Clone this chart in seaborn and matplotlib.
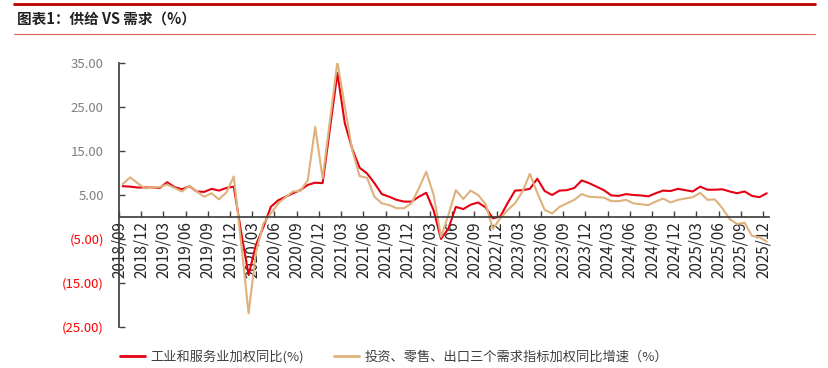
import numpy as np
import pandas as pd
import seaborn as sns
import matplotlib.pyplot as plt
from matplotlib.lines import Line2D

# monthly data, 2018/09 - 2025/12
months = pd.period_range('2018-09', '2025-12', freq='M').strftime('%Y/%m').tolist()

supply = [7.0, 6.9, 6.7, 6.7, 6.7, 6.6, 7.9, 6.8, 6.3, 7.0, 5.8, 5.7, 6.4, 6.0, 6.6, 6.9,
          -3.5, -13.2, -6.3, -2.3, 2.3, 3.8, 4.6, 5.4, 6.1, 7.3, 7.8, 7.7, 20.2, 32.7,
          21.3, 15.5, 11.2, 9.9, 7.7, 5.2, 4.6, 3.9, 3.5, 3.5, 4.6, 5.5, 1.5, -5.0,
          -2.6, 2.3, 1.8, 2.8, 3.3, 2.2, -0.3, 0.1, 3.2, 6.0, 6.1, 6.4, 8.7, 5.9,
          5.0, 6.0, 6.1, 6.6, 8.3, 7.7, 6.9, 6.1, 4.9, 4.8, 5.2, 5.0, 4.9, 4.7,
          5.4, 6.0, 5.9, 6.4, 6.1, 5.8, 6.9, 6.2, 6.2, 6.3, 5.8, 5.4, 5.8, 4.8, 4.5, 5.4]

demand = [7.5, 9.0, 7.7, 6.5, 6.7, 6.8, 7.4, 6.6, 5.8, 7.1, 5.8, 4.6, 5.4, 4.0, 5.6, 9.2,
          -6.0, -21.9, -8.0, -1.5, 0.8, 3.1, 4.5, 5.8, 5.9, 8.4, 20.5, 8.8, 22.0, 35.3,
          25.1, 15.2, 9.3, 8.9, 4.6, 3.1, 2.7, 2.0, 2.0, 3.1, 6.5, 10.3, 5.0, -4.5,
          0.5, 6.1, 4.1, 6.0, 5.0, 3.0, -2.7, -0.3, 1.6, 3.1, 5.8, 9.8, 5.5, 1.6,
          0.8, 2.3, 3.1, 3.9, 5.2, 4.6, 4.5, 4.4, 3.6, 3.6, 3.9, 3.1, 2.9, 2.7,
          3.5, 4.2, 3.3, 3.9, 4.2, 4.5, 5.5, 3.9, 4.0, 2.0, -0.5, -1.6, -1.3, -4.3, -4.6, -5.6]

supply_label = '工业和服务业加权同比(%)'
demand_label = '投资、零售、出口三个需求指标加权同比增速（%）'
yticks = [35, 25, 15, 5, -5, -15, -25]

df = pd.DataFrame({'idx': np.arange(len(months)), 'supply': supply, 'demand': demand})

sns.set_theme(style='white')
plt.rcParams['font.family'] = ['Noto Sans CJK SC', 'DejaVu Sans']
plt.rcParams['axes.unicode_minus'] = False

red = '#E60012'
tan = '#DDB27C'

fig = plt.figure(figsize=(8.29, 3.68), dpi=100)
ax = fig.add_axes([0.1436, 0.1114, 0.784, 0.7174])

sns.lineplot(data=df, x='idx', y='supply', color=red, linewidth=1.5, ax=ax)
sns.lineplot(data=df, x='idx', y='demand', color=tan, linewidth=1.5, ax=ax)

ax.set_ylim(-25, 35)
ax.set_xlim(-0.5, 87.3)
ax.set_xlabel('')
ax.set_ylabel('')

# y axis
ax.set_yticks(yticks)
ax.set_yticklabels([f'{v:.2f}' if v > 0 else f'({abs(v):.2f})' for v in yticks])
for lab, v in zip(ax.get_yticklabels(), yticks):
    lab.set_color('#7F7F7F' if v > 0 else '#FF0000')
    lab.set_fontsize(9.5)

# x axis at zero
tick_pos = np.arange(0, len(months), 3) - 0.5
ax.set_xticks(tick_pos)
ax.set_xticklabels(months[::3], fontsize=9, color='#888888')
ax.spines['bottom'].set_position(('data', 0))
for s in ['top', 'right']:
    ax.spines[s].set_visible(False)
ax.spines['left'].set_color('#404040')
ax.spines['bottom'].set_color('#404040')
ax.tick_params(axis='x', bottom=True, direction='in', length=4, width=1, color='#404040',
               pad=3, labelrotation=90)
ax.tick_params(axis='y', left=True, direction='in', length=4, width=1, color='#404040', pad=11)
for lab in ax.get_xticklabels():
    lab.set_ha('center')
    lab.set_va('top')
ax.grid(False)

# title bar
fig.add_artist(Line2D([14 / 829, 815 / 829], [1 - 4 / 368, 1 - 4 / 368], color='#C00000', linewidth=2))
fig.add_artist(Line2D([14 / 829, 815 / 829], [1 - 34 / 368, 1 - 34 / 368], color='#E06060', linewidth=0.8))
fig.text(17 / 829, 1 - 19 / 368, '图表1：供给 VS 需求（%）', fontsize=10.5, fontweight='bold',
         va='center', ha='left', color='#222222')

# legend
handles = [Line2D([], [], color=red, linewidth=2), Line2D([], [], color=tan, linewidth=2)]
fig.legend(handles, [supply_label, demand_label], loc='center left', bbox_to_anchor=(0.13, 1 - 357 / 368),
           ncol=2, frameon=False, fontsize=9.5, handlelength=1.9, columnspacing=2.3,
           handletextpad=0.4, labelcolor='#404040')

fig.savefig('out.png', dpi=100)
